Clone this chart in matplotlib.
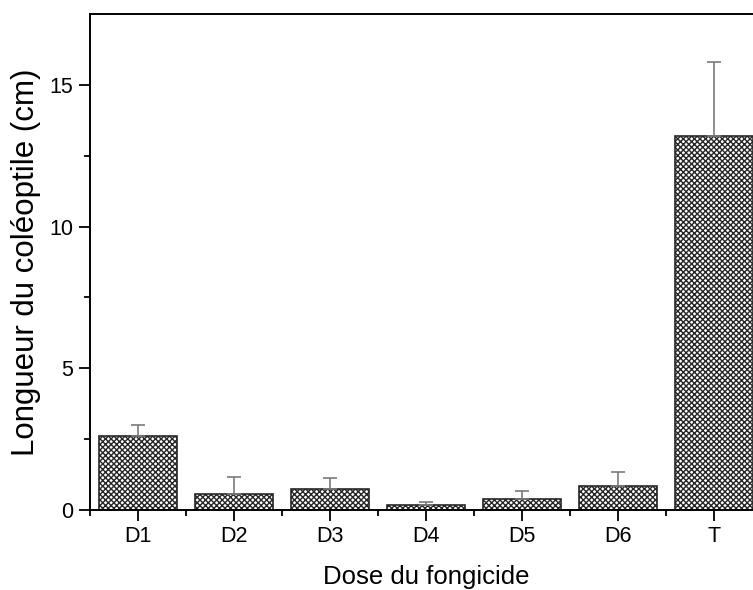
import matplotlib.pyplot as plt
import numpy as np

plt.rcParams['font.family'] = ['Liberation Sans', 'DejaVu Sans']
plt.rcParams['hatch.linewidth'] = 1.0

# dati
doses = ['D1', 'D2', 'D3', 'D4', 'D5', 'D6', 'T']
longueur = [2.61, 0.56, 0.74, 0.19, 0.39, 0.85, 13.21]
erreur = [0.39, 0.60, 0.38, 0.10, 0.27, 0.49, 2.58]

fig = plt.figure(figsize=(7.53, 5.90), dpi=100)
# l'asse esce a destra dalla figura, come nell'originale (tagliato)
ax = fig.add_axes([90 / 753, 80 / 590, 672 / 753, 496 / 590])

x = np.arange(1, len(doses) + 1)
ax.bar(x, longueur, width=0.81, color='white', edgecolor='#262626',
       hatch='xxxxxx', linewidth=1.2, zorder=2)
ax.errorbar(x, longueur, yerr=[np.zeros(len(erreur)), erreur], fmt='none',
            ecolor='#7a7a7a', elinewidth=1.2, capsize=5, capthick=1.2, zorder=3)

ax.set_xlim(0.5, 7.5)
ax.set_ylim(0, 17.5)
ax.set_xticks(x)
ax.set_xticklabels(doses)
ax.set_xticks(np.arange(0.5, 8, 1), minor=True)
ax.set_yticks([0, 5, 10, 15])
ax.set_yticks([2.5, 7.5, 12.5], minor=True)

for s in ax.spines.values():
    s.set_linewidth(1.4)
ax.tick_params(which='major', direction='out', length=8, width=1.3, labelsize=15.5)
ax.tick_params(which='minor', direction='out', length=4.5, width=1.3)
ax.tick_params(axis='y', which='major', pad=4)

ax.set_xlabel('Dose du fongicide', fontsize=18.5, labelpad=13)
ax.set_ylabel('Longueur du coléoptile (cm)', fontsize=22.5, labelpad=6)

fig.savefig('out.png', dpi=100)
